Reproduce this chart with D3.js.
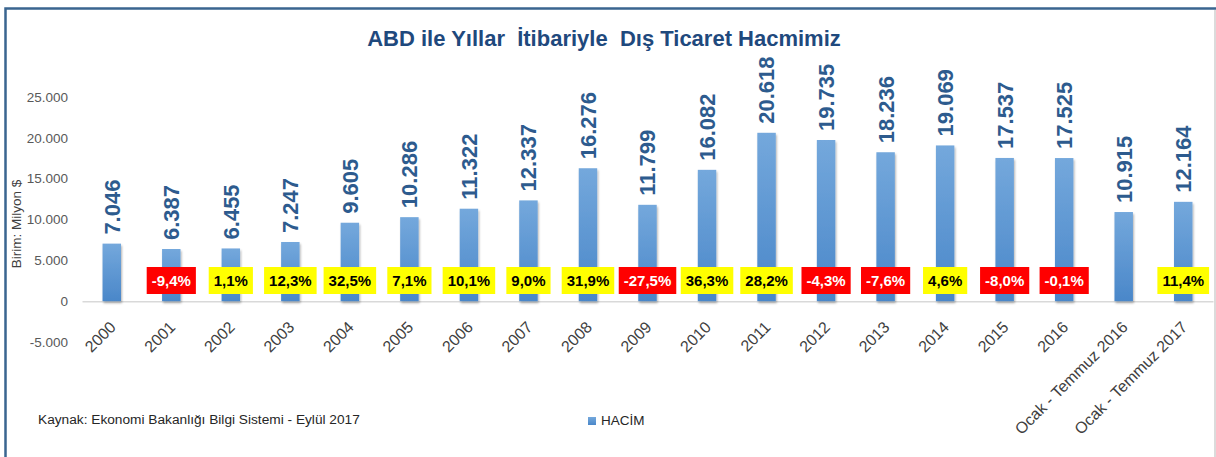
<!DOCTYPE html>
<html>
<head>
<meta charset="utf-8">
<script src="https://cdn.jsdelivr.net/npm/d3@7"></script>
<style>
  body { margin: 0; background: #fff; }
  text { font-family: "Liberation Sans", Arial, sans-serif; }
</style>
</head>
<body>
<div class="bar-chart"></div>
<script>
// data
const categories = ['2000','2001','2002','2003','2004','2005','2006','2007','2008','2009',
  '2010','2011','2012','2013','2014','2015','2016','Ocak - Temmuz 2016','Ocak - Temmuz 2017'];
const hacim = [7046, 6387, 6455, 7247, 9605, 10286, 11322, 12337, 16276, 11799,
  16082, 20618, 19735, 18236, 19069, 17537, 17525, 10915, 12164];
// yearly change in %, null where there is no box
const degisim = [null, -9.4, 1.1, 12.3, 32.5, 7.1, 10.1, 9.0, 31.9, -27.5,
  36.3, 28.2, -4.3, -7.6, 4.6, -8.0, -0.1, null, 11.4];
const yTicks = [-5000, 0, 5000, 10000, 15000, 20000, 25000];

const title = 'ABD ile Yıllar  İtibariyle  Dış Ticaret Hacmimiz';
const yTitle = 'Birim: Milyon $';
const source = 'Kaynak: Ekonomi Bakanlığı Bilgi Sistemi - Eylül 2017';
const legendLabel = 'HACİM';

const outerWidth = 1216;
const outerHeight = 457;

// turkish number format: 25.000 and 9,4
const tr = d3.formatLocale({decimal: ',', thousands: '.', grouping: [3], currency: ['', ''], minus: '-'});
const fmtInt = tr.format(',.0f');
const fmtPct = tr.format('.1f');

const svg = d3.select('.bar-chart')
  .append('svg')
  .attr('width', outerWidth)
  .attr('height', outerHeight);

// frame
svg.append('rect').attr('width', outerWidth).attr('height', outerHeight).attr('fill', '#fff');
svg.append('path')
  .attr('d', 'M5.5,457 V8.5 H1216')
  .attr('fill', 'none')
  .attr('stroke', '#3a6590')
  .attr('stroke-width', 2.5);
svg.append('line')
  .attr('x1', 1215).attr('x2', 1215).attr('y1', 10).attr('y2', 457)
  .attr('stroke', '#cfcfcf').attr('stroke-width', 1.5);

// bar gradient + shadow
const defs = svg.append('defs');
const grad = defs.append('linearGradient')
  .attr('id', 'barGrad').attr('x1', 0).attr('x2', 0).attr('y1', 0).attr('y2', 1);
grad.append('stop').attr('offset', '0%').attr('stop-color', '#74a8dc');
grad.append('stop').attr('offset', '100%').attr('stop-color', '#4a87c9');
defs.append('filter').attr('id', 'shadow')
  .attr('x', '-30%').attr('y', '-10%').attr('width', '160%').attr('height', '130%')
  .append('feDropShadow')
  .attr('dx', 1).attr('dy', 2).attr('stdDeviation', 1.2)
  .attr('flood-color', '#000').attr('flood-opacity', 0.3);

const xScale = d3.scaleBand()
  .domain(categories)
  .range([82, 1213])
  .paddingInner(0.69)
  .paddingOuter(0.345);

const yScale = d3.scaleLinear()
  .domain([-5000, 25000])
  .range([342, 97]);

// y axis, labels only
const yAxis = d3.axisLeft(yScale)
  .tickValues(yTicks)
  .tickSize(0)
  .tickPadding(0)
  .tickFormat(fmtInt);

svg.append('g')
  .attr('transform', 'translate(68,0)')
  .call(yAxis)
  .call(g => g.select('.domain').remove())
  .selectAll('text')
  .attr('fill', '#595959')
  .attr('font-size', 13.5)
  .attr('font-family', '"Liberation Sans", Arial, sans-serif');

svg.append('text')
  .attr('transform', 'translate(21,224) rotate(-90)')
  .attr('text-anchor', 'middle')
  .attr('font-size', 13.5)
  .attr('fill', '#404040')
  .text(yTitle);

// x axis along zero, rotated labels
const xAxis = d3.axisBottom(xScale)
  .tickSize(0)
  .tickSizeOuter(0);

const xg = svg.append('g')
  .attr('transform', `translate(0,${yScale(0)})`)
  .call(xAxis);
xg.select('.domain').attr('stroke', '#d9d9d9').attr('stroke-width', 1.5);
xg.selectAll('text')
  .attr('x', 0).attr('y', 0).attr('dy', null)
  .attr('text-anchor', 'end')
  .attr('transform', 'translate(5,27) rotate(-45)')
  .attr('fill', '#404040')
  .attr('font-size', 16)
  .attr('font-family', '"Liberation Sans", Arial, sans-serif');

// bars
svg.selectAll('.bar')
  .data(hacim)
  .enter()
  .append('rect')
  .attr('class', 'bar')
  .attr('x', (d, i) => xScale(categories[i]))
  .attr('y', d => yScale(d))
  .attr('width', xScale.bandwidth())
  .attr('height', d => yScale(0) - yScale(d))
  .attr('fill', 'url(#barGrad)')
  .attr('filter', 'url(#shadow)');

// value labels, vertical
svg.selectAll('.val')
  .data(hacim)
  .enter()
  .append('text')
  .attr('class', 'val')
  .attr('transform', (d, i) =>
    `translate(${xScale(categories[i]) + xScale.bandwidth() / 2},${yScale(d) - 9}) rotate(-90)`)
  .attr('dy', '0.36em')
  .attr('font-size', 22)
  .attr('font-weight', 'bold')
  .attr('fill', '#2d5b8e')
  .text(d => fmtInt(d));

// change boxes
const boxes = svg.selectAll('.chg')
  .data(degisim.map((d, i) => ({d, cat: categories[i]})).filter(o => o.d !== null))
  .enter()
  .append('g')
  .attr('class', 'chg')
  .attr('transform', o => `translate(${xScale(o.cat) + xScale.bandwidth() / 2},280.5)`);

boxes.append('text')
  .attr('text-anchor', 'middle')
  .attr('dy', '0.35em')
  .attr('font-size', 15)
  .attr('font-weight', 'bold')
  .attr('fill', o => o.d < 0 ? '#fff' : '#000')
  .text(o => fmtPct(o.d) + '%')
  .each(function() {
    const w = this.getComputedTextLength() + 10;
    d3.select(this.parentNode).insert('rect', 'text')
      .attr('x', -w / 2).attr('y', -13.5)
      .attr('width', w).attr('height', 27)
      .attr('fill', d3.select(this).datum().d < 0 ? '#ff0000' : '#ffff00');
  });

// title
svg.append('text')
  .attr('x', 604)
  .attr('y', 46)
  .attr('text-anchor', 'middle')
  .attr('font-size', 22)
  .attr('font-weight', 'bold')
  .attr('fill', '#1f497d')
  .style('white-space', 'pre')
  .text(title);

// source + legend
svg.append('text')
  .attr('x', 38)
  .attr('y', 424)
  .attr('font-size', 13.7)
  .attr('fill', '#262626')
  .text(source);

svg.append('rect')
  .attr('x', 588).attr('y', 417)
  .attr('width', 8).attr('height', 8)
  .attr('fill', 'url(#barGrad)');
svg.append('text')
  .attr('x', 601)
  .attr('y', 425)
  .attr('font-size', 13.5)
  .attr('fill', '#262626')
  .text(legendLabel);
</script>
</body>
</html>
